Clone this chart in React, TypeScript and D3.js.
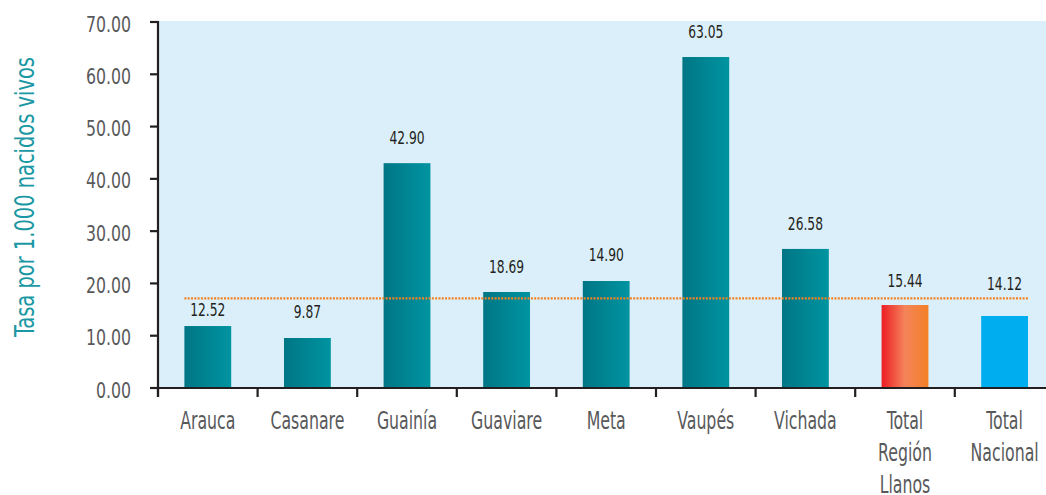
import React from "react";
import * as d3 from "d3";

const categories: string[][] = [
  ["Arauca"],
  ["Casanare"],
  ["Guainía"],
  ["Guaviare"],
  ["Meta"],
  ["Vaupés"],
  ["Vichada"],
  ["Total", "Región", "Llanos"],
  ["Total", "Nacional"],
];
// bar heights as drawn in the picture
const barValues = [11.85, 9.56, 43.0, 18.36, 20.46, 63.3, 26.6, 15.87, 13.77];
// printed data labels
const valueLabels = ["12.52", "9.87", "42.90", "18.69", "14.90", "63.05", "26.58", "15.44", "14.12"];
// level (in axis units) at which each data label is centred
const labelLevels = [14.92, 14.53, 47.81, 23.14, 25.43, 68.08, 31.36, 20.46, 19.89];
const barKinds = ["teal", "teal", "teal", "teal", "teal", "teal", "teal", "orange", "blue"];
const referenceValue = 17.15;
const yTicks = [0, 10, 20, 30, 40, 50, 60, 70];
const yTitle = "Tasa por 1.000 nacidos vivos";

const W = 1046;
const H = 495;
const left = 158;
const top = 22;
const bottom = 388;
const bandW = 99.6;

const FONT = "'DejaVu Sans Condensed', 'Liberation Sans Narrow', 'DejaVu Sans', sans-serif";

function T(props: {
  x: number;
  y: number;
  sx: number;
  size: number;
  fill: string;
  anchor: string;
  children: React.ReactNode;
}) {
  return (
    <text
      transform={`translate(${props.x},${props.y}) scale(${props.sx},1)`}
      textAnchor={props.anchor}
      fontFamily={FONT}
      fontSize={props.size}
      fill={props.fill}
    >
      {props.children}
    </text>
  );
}

export default function App() {
  const y = d3.scaleLinear().domain([0, 70]).range([bottom, top]);
  const keys = categories.map((c) => c.join(" "));
  const x = d3
    .scaleBand<string>()
    .domain(keys)
    .range([left, left + bandW * keys.length])
    .paddingInner(0.53)
    .paddingOuter(0.265);
  const step = x.step();
  const fills: Record<string, string> = {
    teal: "url(#gTeal)",
    orange: "url(#gOrange)",
    blue: "#00aeef",
  };
  const cx = (i: number) => x(keys[i])! + x.bandwidth() / 2;
  const firstX = x(keys[0])!;
  const lastX = x(keys[keys.length - 1])! + x.bandwidth();

  return (
    <svg
      width={W}
      height={H}
      style={{ position: "absolute", left: 0, top: 0, background: "#fff" }}
    >
      <defs>
        <linearGradient id="gTeal" x1="0" x2="1" y1="0" y2="0">
          <stop offset="0" stopColor="#007685" />
          <stop offset="1" stopColor="#0094a1" />
        </linearGradient>
        <linearGradient id="gOrange" x1="0" x2="1" y1="0" y2="0">
          <stop offset="0" stopColor="#ed1c24" />
          <stop offset="0.5" stopColor="#f4845a" />
          <stop offset="1" stopColor="#f37f27" />
        </linearGradient>
      </defs>
      <rect x={left} y={21} width={W - left} height={bottom - 21} fill="#dbeffa" />

      {barValues.map((v, i) => (
        <rect
          key={"b" + i}
          x={x(keys[i])}
          y={y(v)}
          width={x.bandwidth()}
          height={bottom - y(v)}
          fill={fills[barKinds[i]]}
        />
      ))}

      <line
        x1={firstX}
        x2={lastX}
        y1={y(referenceValue)}
        y2={y(referenceValue)}
        stroke="#f58220"
        strokeWidth={2.2}
        strokeDasharray="2 1.3"
      />

      {valueLabels.map((t, i) => (
        <T
          key={"l" + i}
          x={cx(i)}
          y={y(labelLevels[i]) + 6.3}
          sx={0.78}
          size={17.5}
          fill="#231f20"
          anchor="middle"
        >
          {t}
        </T>
      ))}

      {/* y axis */}
      <line x1={left} x2={left} y1={21} y2={bottom + 9} stroke="#231f20" strokeWidth={2.2} />
      {yTicks.map((t) => (
        <g key={"yt" + t}>
          <line x1={left - 8} x2={left} y1={y(t)} y2={y(t)} stroke="#231f20" strokeWidth={2.2} />
          <T x={131} y={y(t) + 9.5} sx={0.85} size={20.6} fill="#58595b" anchor="end">
            {t.toFixed(2)}
          </T>
        </g>
      ))}

      {/* x axis */}
      <line x1={left - 8} x2={W} y1={bottom} y2={bottom} stroke="#231f20" strokeWidth={2.2} />
      {keys.map((k, i) => (
        <line
          key={"xt" + i}
          x1={left + step * i}
          x2={left + step * i}
          y1={bottom}
          y2={bottom + 9}
          stroke="#231f20"
          strokeWidth={2.2}
        />
      ))}
      {categories.map((lines, i) =>
        lines.map((ln, j) => (
          <T
            key={"c" + i + "_" + j}
            x={cx(i)}
            y={429 + j * 32}
            sx={0.73}
            size={24}
            fill="#58595b"
            anchor="middle"
          >
            {ln}
          </T>
        ))
      )}

      <text
        transform={`translate(34,197) rotate(-90)`}
        textAnchor="middle"
        fontFamily={FONT}
        fontSize={26}
        fill="#1b98a3"
        textLength={280}
        lengthAdjust="spacingAndGlyphs"
      >
        {yTitle}
      </text>
    </svg>
  );
}
